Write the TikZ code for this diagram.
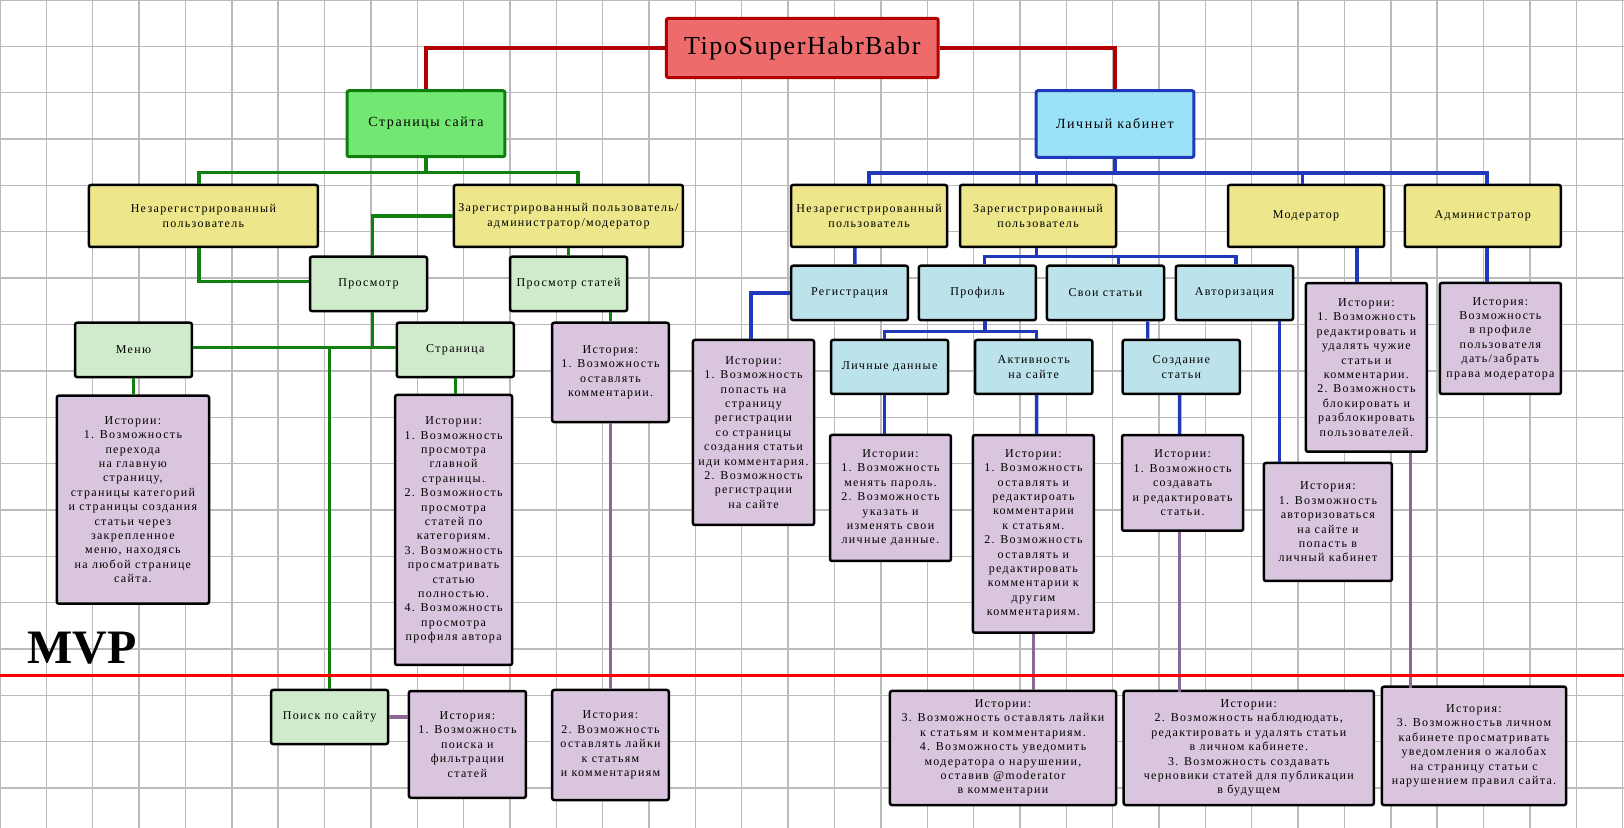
\documentclass[tikz,border=0pt]{standalone}
\usepackage{fontspec}
\setmainfont{Liberation Serif}[LetterSpace=11]
\newfontfamily\titlefont{Liberation Serif}[LetterSpace=6]
\newfontfamily\mvpfont{Liberation Serif}
\definecolor{cTitle}{HTML}{EE6B6B}
\definecolor{cTitleB}{HTML}{B20000}
\definecolor{cRootA}{HTML}{72E872}
\definecolor{cRootAB}{HTML}{0E7F0E}
\definecolor{cRootB}{HTML}{99E2F8}
\definecolor{cRootBB}{HTML}{1F3AB9}
\definecolor{cYel}{HTML}{EDE68A}
\definecolor{cLgr}{HTML}{D0EACC}
\definecolor{cPur}{HTML}{D9C6DE}
\definecolor{cLbl}{HTML}{BCE2EC}
\definecolor{cG}{HTML}{118011}
\definecolor{cB}{HTML}{2039B8}
\definecolor{cP}{HTML}{8A6896}
\definecolor{cR}{HTML}{B20000}
\definecolor{cMvp}{HTML}{FF0000}
\definecolor{cGrid}{HTML}{BBBBBB}
\tikzset{
  box/.style={draw=black, line width=1.25pt, rounded corners=1pt, inner sep=0pt,
    align=center, font=\fontsize{6}{7.2}\selectfont},
  yel/.style={box, fill=cYel},
  lgr/.style={box, fill=cLgr},
  pur/.style={box, fill=cPur},
  lbl/.style={box, fill=cLbl},
  sz/.style 2 args={minimum width=#1, minimum height=#2},
  gline/.style={draw=cG, line width=1.7pt},
  bline/.style={draw=cB, line width=1.7pt},
  pline/.style={draw=cP, line width=1.7pt},
  rline/.style={draw=cR, line width=1.7pt},
  gridl/.style={draw=cGrid, line width=0.7pt},
}
\begin{document}
\begin{tikzpicture}[x=0.5pt, y=-0.5pt]
\fill[white] (0,0) rectangle (1624,828);
\useasboundingbox (0,0) rectangle (1624,828);
\foreach \i in {0,...,35} \draw[gridl] (\i*46.36,0) -- (\i*46.36,828);
\foreach \j in {0,...,17} \draw[gridl] (0,\j*46.36) -- (1624,\j*46.36);

% top
\node[box, sz={135.9pt}{29.7pt}, fill=cTitle, draw=cTitleB, line width=1.5pt,
  font=\titlefont\fontsize{13}{15.6}\selectfont] (title) at (802.3,48) {TipoSuperHabrBabr};
\node[box, sz={78.9pt}{33pt}, fill=cRootA, draw=cRootAB, line width=1.5pt,
  font=\fontsize{7}{8.4}\selectfont] (root1) at (426,123.7) {Страницы сайта};
\node[box, sz={78.9pt}{33.3pt}, fill=cRootB, draw=cRootBB, line width=1.5pt,
  font=\fontsize{7}{8.4}\selectfont] (root2) at (1115,124) {Личный кабинет};

% left branch
\node[yel, sz={114.5pt}{31pt}] (nzL) at (203.4,216) {Незарегистрированный\\пользователь};
\node[yel, sz={114.5pt}{31pt}] (zrL) at (568.4,216) {Зарегистрированный пользователь/\\администратор/модератор};
\node[lgr, sz={58.5pt}{27.15pt}] (prosm) at (368.5,283.9) {Просмотр};
\node[lgr, sz={58.5pt}{27.15pt}] (prst) at (568.6,283.9) {Просмотр статей};
\node[lgr, sz={58.4pt}{27.15pt}] (menu) at (133.5,349.9) {Меню};
\node[lgr, sz={58.5pt}{27.15pt}] (page) at (455.3,349.9) {Страница};
\node[pur, sz={76.1pt}{104pt}] (menuStory) at (132.9,499.7) {Истории:\\1. Возможность\\перехода\\на главную\\страницу,\\страницы категорий\\и страницы создания\\статьи через\\закрепленное\\меню, находясь\\на любой странице\\сайта.};
\node[pur, sz={58.5pt}{135pt}] (pageStory) at (453.6,530) {Истории:\\1. Возможность\\просмотра\\главной\\страницы.\\2. Возможность\\просмотра\\статей по\\категориям.\\3. Возможность\\просматривать\\статью\\полностью.\\4. Возможность\\просмотра\\профиля автора};
\node[lgr, sz={58.5pt}{27pt}] (search) at (329.6,717) {Поиск по сайту};
\node[pur, sz={58.5pt}{53.35pt}] (searchStory) at (467.4,744.4) {История:\\1. Возможность\\поиска и\\фильтрации\\статей};
\node[pur, sz={58.35pt}{49.65pt}] (prstStory) at (610.5,372.4) {История:\\1. Возможность\\оставлять\\комментарии.};
\node[pur, sz={58.35pt}{55pt}] (likesStory) at (610.5,745) {История:\\2. Возможность\\оставлять лайки\\к статьям\\и комментариям};

% right branch
\node[yel, sz={78pt}{31pt}] (nzR) at (869.1,216) {Незарегистрированный\\пользователь};
\node[yel, sz={78pt}{31pt}] (zrR) at (1038,216) {Зарегистрированный\\пользователь};
\node[yel, sz={78pt}{31pt}] (moder) at (1306,216) {Модератор};
\node[yel, sz={78pt}{31pt}] (admin) at (1482.8,216) {Администратор};
\node[lbl, sz={58.35pt}{27.15pt}] (reg) at (849.5,292.9) {Регистрация};
\node[lbl, sz={58.55pt}{27.15pt}] (profile) at (977.4,292.9) {Профиль};
\node[lbl, sz={58.55pt}{27.15pt}] (myart) at (1105.5,292.9) {Свои статьи};
\node[lbl, sz={58.6pt}{27.15pt}] (auth) at (1234.4,292.9) {Авторизация};
\node[lbl, sz={58.55pt}{27pt}] (personal) at (889.6,367) {Личные данные};
\node[lbl, sz={58.65pt}{27pt}] (activity) at (1033.7,367) {Активность\\на сайте};
\node[lbl, sz={58.6pt}{27pt}] (create) at (1181.3,367) {Создание\\статьи};
\node[pur, sz={60.6pt}{92.5pt}] (regStory) at (753.5,432.5) {Истории:\\1. Возможность\\попасть на\\страницу\\регистрации\\со страницы\\создания статьи\\иди комментария.\\2. Возможность\\регистрации\\на сайте};
\node[pur, sz={60.45pt}{63pt}] (personalStory) at (890.5,498) {Истории:\\1. Возможность\\менять пароль.\\2. Возможность\\указать и\\изменять свои\\личные данные.};
\node[pur, sz={60.5pt}{98.85pt}] (activityStory) at (1033.4,533.9) {Истории:\\1. Возможность\\оставлять и\\редактироать\\комментарии\\к статьям.\\2. Возможность\\оставлять и\\редактировать\\комментарии к\\другим\\комментариям.};
\node[pur, sz={60.55pt}{47.85pt}] (createStory) at (1182.6,482.9) {Истории:\\1. Возможность\\создавать\\и редактировать\\статьи.};
\node[pur, sz={64pt}{59pt}] (authStory) at (1327.9,522) {История:\\1. Возможность\\авторизоваться\\на сайте и\\попасть в\\личный кабинет};
\node[pur, sz={60.5pt}{84.35pt}] (modStory) at (1366.4,367.4) {Истории:\\1. Возможность\\редактировать и\\удалять чужие\\статьи и\\комментарии.\\2. Возможность\\блокировать и\\разблокировать\\пользователей.};
\node[pur, sz={60.55pt}{55.5pt}] (adminStory) at (1500.4,338.5) {История:\\Возможность\\в профиле\\пользователя\\дать/забрать\\права модератора};
\node[pur, sz={113.1pt}{57pt}] (activityBottom) at (1003,748) {Истории:\\3. Возможность оставлять лайки\\к статьям и комментариям.\\4. Возможность уведомить\\модератора о нарушении,\\оставив @moderator\\в комментарии};
\node[pur, sz={125.1pt}{57pt}] (createBottom) at (1248.8,748) {Истории:\\2. Возможность наблюдюдать,\\редактировать и удалять статьи\\в личном кабинете.\\3. Возможность создавать\\черновики статей для публикации\\в будущем};
\node[pur, sz={92.15pt}{59.15pt}] (modBottom) at (1474,745.9) {История:\\3. Возможностьв личном\\кабинете просматривать\\уведомления о жалобах\\на страницу статьи с\\нарушением правил сайта.};

% red connectors
\draw[rline] (title.west) -| (root1.north);
\draw[rline] (title.east) -| (root2.north);
% green connectors
\draw[gline] (root1.south) -- ++(0,14.3) -| ([xshift=-2.15pt]nzL.north);
\draw[gline] (root1.south) -- ++(0,14.3) -| ([xshift=4.75pt]zrL.north);
\draw[gline] ([xshift=-2.15pt]nzL.south) |- ([yshift=1.1pt]prosm.west);
\draw[gline] (zrL.west) -| ([xshift=2.05pt]prosm.north);
\draw[gline] (zrL.south) -- (zrL.south |- prst.north);
\draw[gline] (prstStory.north |- prst.south) -- (prstStory.north);
\draw[gline] ([xshift=2.05pt]prosm.south) |- ([yshift=1.3pt]menu.east);
\draw[gline] ([xshift=2.05pt]prosm.south) |- ([yshift=1.3pt]page.west);
\draw[gline] (search.north) -- ++(0,-342.7);
\draw[gline] (menu.south) -- (menu.south |- menuStory.north);
\draw[gline] (page.south) -- (page.south |- pageStory.north);
% blue connectors
\draw[bline] (root2.south) -- ++(0,14.4) -| (nzR.north);
\draw[bline] (root2.south) -- ++(0,14.4) -| ([xshift=-0.7pt]zrR.north);
\draw[bline] (root2.south) -- ++(0,14.4) -| ([xshift=-1.65pt]moder.north);
\draw[bline] (root2.south) -- ++(0,14.4) -| ([xshift=2.1pt]admin.north);
\draw[bline] ([xshift=-7.15pt]nzR.south) -- ([xshift=2.65pt]reg.north);
\draw[bline] (reg.west) -| ([xshift=-1.35pt]regStory.north);
\draw[bline] ([xshift=-0.7pt]zrR.south) -- ++(0,8.3) -| ([xshift=3.45pt]profile.north);
\draw[bline] ([xshift=-0.7pt]zrR.south) -- ++(0,8.3) -| ([xshift=6.35pt]myart.north);
\draw[bline] ([xshift=-0.7pt]zrR.south) -- ++(0,8.3) -| ([xshift=0.85pt]auth.north);
\draw[bline] ([xshift=3.8pt]profile.south) -- ++(0,10) -| ([xshift=-2.6pt]personal.north);
\draw[bline] ([xshift=3.8pt]profile.south) -- ++(0,10) -| ([xshift=1.45pt]activity.north);
\draw[bline] ([xshift=-2.45pt]personal.south) -- ([xshift=-2.9pt]personalStory.north);
\draw[bline] ([xshift=1.45pt]activity.south) -- ([xshift=1.6pt]activityStory.north);
\draw[bline] ([xshift=21.1pt]myart.south) -- ([xshift=-16.8pt]create.north);
\draw[bline] ([xshift=-0.85pt]create.south) -- ([xshift=-1.5pt]createStory.north);
\draw[bline] ([xshift=22.55pt]auth.south) -- ([xshift=-24.2pt]authStory.north);
\draw[bline] ([xshift=25.45pt]moder.south) -- ([xshift=-4.75pt]modStory.north);
\draw[bline] ([xshift=2.1pt]admin.south) -- ([xshift=-6.7pt]adminStory.north);
% purple connectors
\draw[pline] (search.east) -- (search.east -| searchStory.west);
\draw[pline] (prstStory.south) -- (likesStory.north);
\draw[pline] (activityStory.south) -- (activityStory.south |- activityBottom.north);
\draw[pline] ([xshift=-1.5pt]createStory.south) -- ++(0,160.3);
\draw[pline] ([xshift=22.1pt]modStory.south) -- ++(0,235);

% MVP line
\draw[draw=cMvp, line width=1.5pt] (0,676) -- (1624,676);
\node[anchor=base west, inner sep=0pt, font=\mvpfont\bfseries\fontsize{24}{24}\selectfont] (mvp) at (26.9,664) {MVP};
\end{tikzpicture}
\end{document}
